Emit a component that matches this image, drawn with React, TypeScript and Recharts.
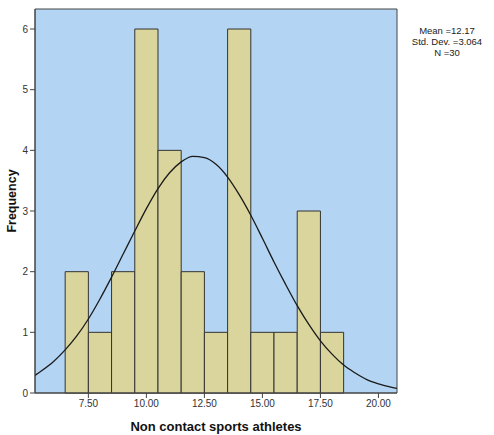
import React from "react";
import {
  ComposedChart, Line, XAxis, YAxis, ReferenceArea,
} from "recharts";

// histogram bins (centre value) and counts
const binCenters = [7, 8, 9, 10, 11, 12, 13, 14, 15, 16, 17, 18];
const binCounts = [2, 1, 2, 6, 4, 2, 1, 6, 1, 1, 3, 1];

// fitted normal curve
const curveX = [
  5.2, 5.5, 6, 6.5, 7, 7.5, 8, 8.5, 9, 9.5, 10, 10.5, 11, 11.5, 12, 12.5,
  13, 13.5, 14, 14.5, 15, 15.5, 16, 16.5, 17, 17.5, 18, 18.5, 19, 19.5, 20, 20.5, 20.8,
];
const curveY = [
  0.29, 0.37, 0.52, 0.71, 0.94, 1.22, 1.55, 1.91, 2.29, 2.67, 3.04, 3.37, 3.63, 3.81, 3.9, 3.88,
  3.77, 3.56, 3.27, 2.93, 2.55, 2.16, 1.79, 1.44, 1.13, 0.86, 0.64, 0.46, 0.33, 0.22, 0.15, 0.1, 0.074,
];

const xTicks = [7.5, 10, 12.5, 15, 17.5, 20];
const yTicks = [0, 1, 2, 3, 4, 5, 6];
const xDomain = [5.2, 20.8];
const yDomain = [0, 6.33];
const statsLines = ["Mean =12.17", "Std. Dev. =3.064", "N =30"];

const curve = curveX.map((x, i) => ({ x, y: curveY[i] }));

const FONT = "'Liberation Sans', Arial, sans-serif";

const YTitle = (props: any) => {
  const vb = props.viewBox || {};
  const cx = 12;
  const cy = (vb.y ?? 9) + (vb.height ?? 384) / 2;
  return (
    <text
      x={cx}
      y={cy}
      transform={`rotate(-90 ${cx} ${cy})`}
      textAnchor="middle"
      dominantBaseline="central"
      fontFamily={FONT}
      fontWeight="bold"
      fontSize={12.5}
      fill="#111"
    >
      Frequency
    </text>
  );
};

export default function App() {
  return (
    <div style={{ position: "absolute", left: 0, top: 0, width: 494, height: 435, background: "#fff" }}>
      <ComposedChart
        width={494}
        height={435}
        margin={{ top: 9, right: 97, left: 0, bottom: 0 }}
        style={{ fontFamily: FONT }}
      >
        <XAxis
          type="number"
          dataKey="x"
          domain={xDomain}
          allowDataOverflow
          ticks={xTicks}
          tickFormatter={(v: number) => v.toFixed(2)}
          height={42}
          tickSize={5}
          axisLine={{ stroke: "#444" }}
          tickLine={{ stroke: "#444" }}
          tick={{ fontSize: 10, fill: "#333" }}
          label={{
            value: "Non contact sports athletes",
            position: "insideBottom",
            offset: 4,
            style: { fontWeight: "bold", fontSize: 13, fill: "#111" },
          }}
        />
        <YAxis
          type="number"
          domain={yDomain}
          allowDataOverflow
          ticks={yTicks}
          width={35}
          tickSize={5}
          axisLine={{ stroke: "#444" }}
          tickLine={{ stroke: "#444" }}
          tick={{ fontSize: 10, fill: "#333" }}
          label={<YTitle />}
        />
        <ReferenceArea
          x1={xDomain[0]}
          x2={xDomain[1]}
          y1={yDomain[0]}
          y2={yDomain[1]}
          fill="#B3D4F2"
          fillOpacity={1}
          stroke="#444"
          strokeOpacity={1}
        />
        {binCenters.map((c, i) => (
          <ReferenceArea
            key={c}
            x1={c - 0.5}
            x2={c + 0.5}
            y1={0}
            y2={binCounts[i]}
            fill="#D9D59C"
            fillOpacity={1}
            stroke="#333"
            strokeOpacity={1}
            strokeWidth={1}
          />
        ))}
        <Line
          data={curve}
          dataKey="y"
          type="monotone"
          dot={false}
          stroke="#1a1a1a"
          strokeWidth={1.3}
          isAnimationActive={false}
        />
      </ComposedChart>
      <div
        style={{
          position: "absolute",
          left: 403,
          top: 25,
          width: 88,
          textAlign: "center",
          fontFamily: FONT,
          fontSize: 9.5,
          lineHeight: "11px",
          color: "#222",
        }}
      >
        {statsLines.map((s) => (
          <div key={s}>{s}</div>
        ))}
      </div>
    </div>
  );
}
